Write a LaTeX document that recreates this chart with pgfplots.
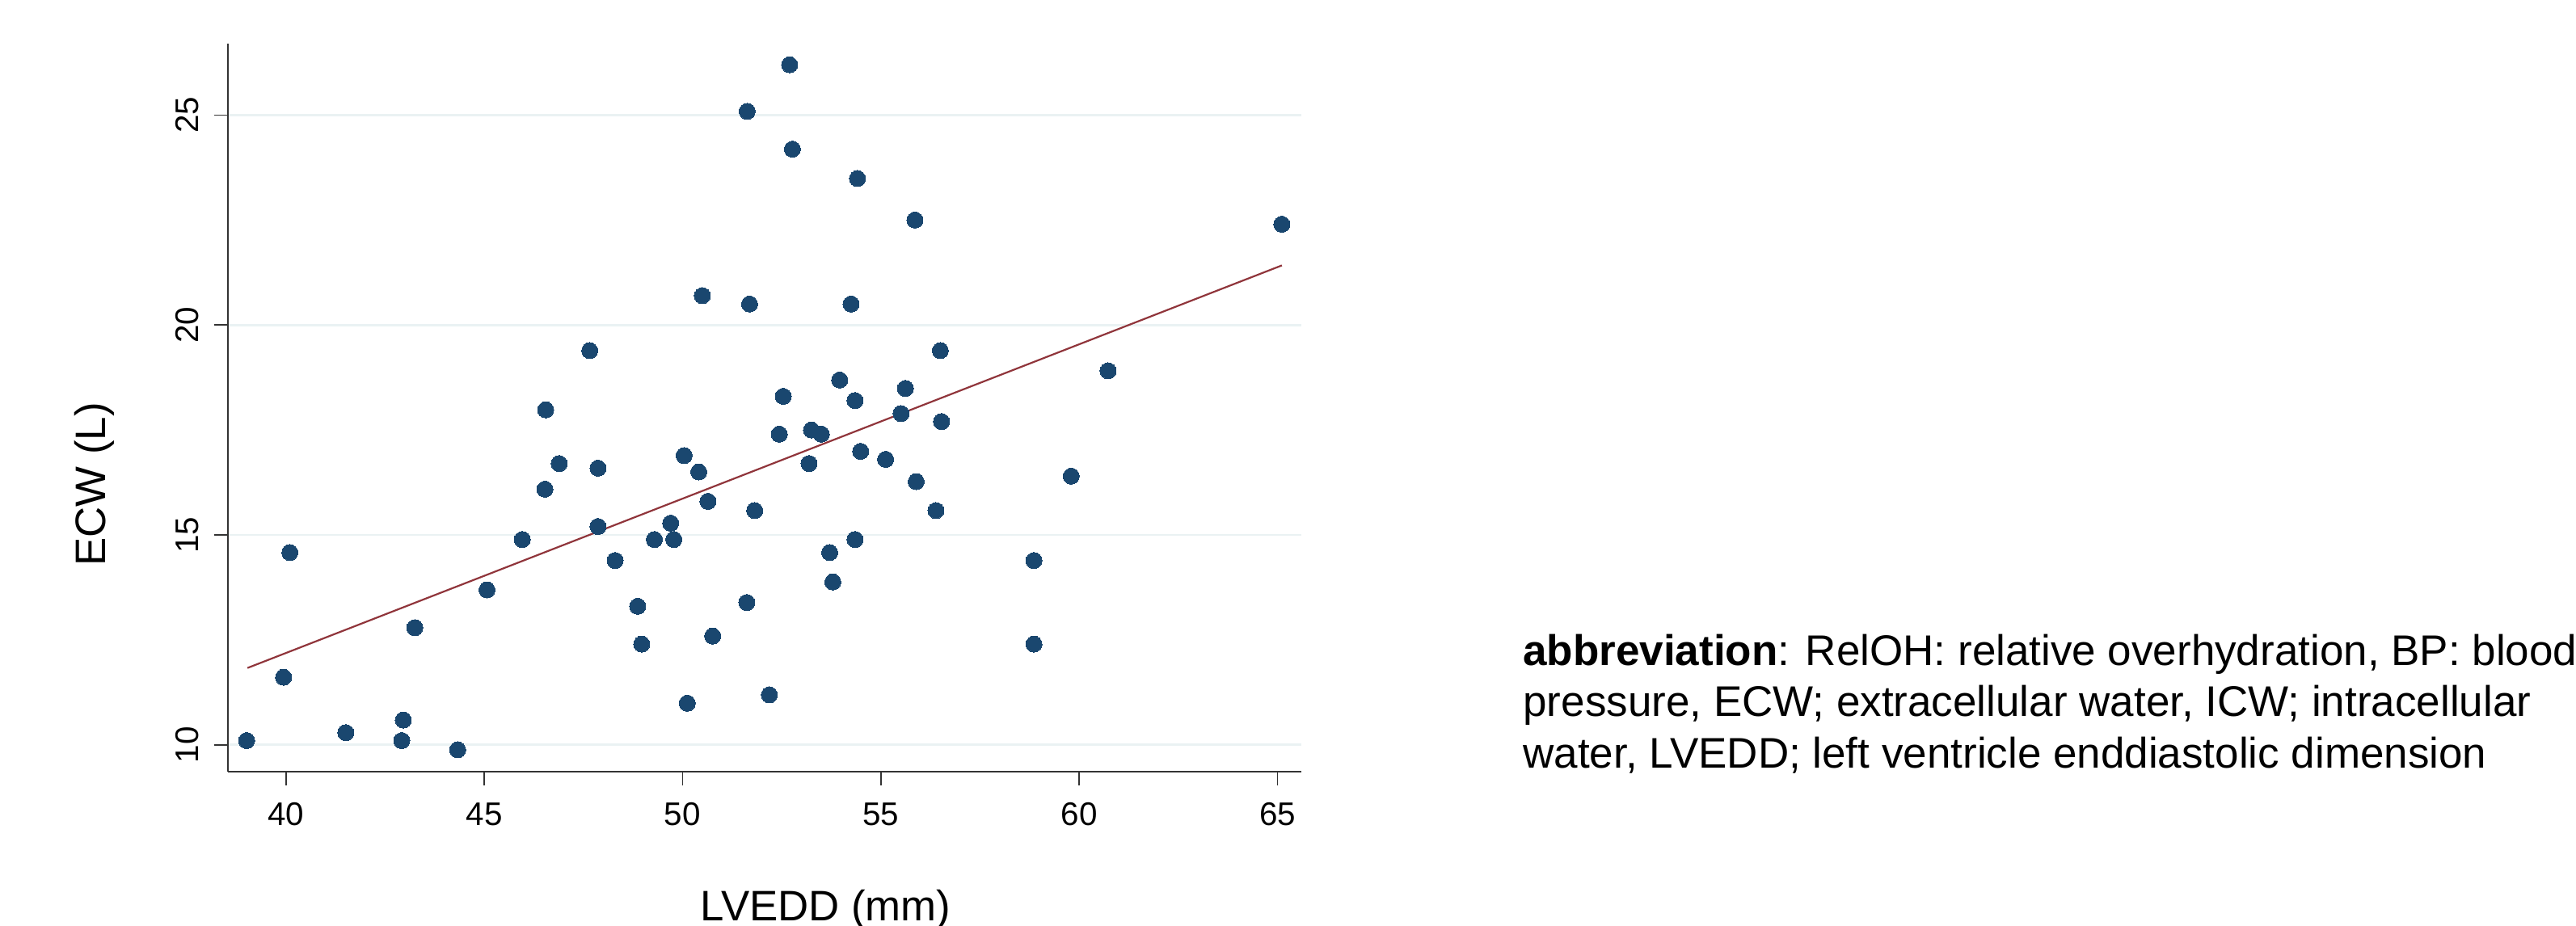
\documentclass[border=0pt]{standalone}
\usepackage{fontspec}
\setmainfont{Liberation Sans}
\usepackage{pgfplots}
\pgfplotsset{compat=1.18}

\definecolor{dotblue}{HTML}{1A476F}
\definecolor{fitred}{HTML}{90353B}
\definecolor{gridc}{HTML}{EAF2F3}
\definecolor{axisc}{HTML}{333333}

\begin{document}
\begin{tikzpicture}
\begin{axis}[
  at={(0pt,0pt)}, anchor=south west,
  scale only axis,
  width=332.2pt, height=225.2pt,
  xmin=38.53, xmax=65.61,
  ymin=9.36, ymax=26.70,
  enlargelimits=false,
  clip=false,
  axis x line*=bottom,
  axis y line*=left,
  axis line style={axisc, line width=0.45pt},
  xtick={40,45,50,55,60,65},
  ytick={10,15,20,25},
  tick align=outside,
  major tick length=4.2pt,
  tick style={axisc, line width=0.45pt},
  ymajorgrids=true,
  grid style={gridc, line width=0.7pt},
  /pgf/number format/assume math mode=true,
  tick label style={font=\fontsize{10.1}{12}\selectfont, inner sep=0pt},
  xticklabel style={anchor=north, yshift=-5.2pt},
  yticklabel style={xshift=-4.8pt, rotate=90, anchor=base},
]
\addplot[only marks, mark=*, mark size=2.5pt, draw=none, fill=dotblue,
  mark options={draw=dotblue, fill=dotblue, line width=0pt}] coordinates {
  (39.01,10.10) (39.94,11.61) (40.10,14.58) (41.51,10.29) (42.96,10.59)
  (42.92,10.10) (43.25,12.79) (44.33,9.88) (45.07,13.69) (45.96,14.89)
  (46.53,16.09) (46.55,17.98) (46.89,16.70) (47.66,19.39) (47.87,16.59)
  (47.87,15.20) (48.30,14.39) (48.87,13.30) (48.97,12.40) (49.29,14.89)
  (49.70,15.28) (49.78,14.89) (50.04,16.89) (50.12,10.99) (50.41,16.50)
  (50.50,20.70) (50.64,15.80) (50.76,12.59) (51.63,25.09) (51.62,13.39)
  (51.69,20.50) (51.82,15.58) (52.19,11.19) (52.44,17.40) (52.54,18.30)
  (52.70,26.20) (52.77,24.19) (53.19,16.70) (53.25,17.50) (53.50,17.40)
  (53.71,14.58) (53.79,13.88) (53.96,18.69) (54.41,23.49) (54.25,20.50)
  (54.35,18.20) (54.49,16.99) (54.35,14.89) (55.12,16.80) (55.51,17.89)
  (55.62,18.49) (55.86,22.50) (55.89,16.27) (56.50,19.39) (56.53,17.70)
  (56.39,15.58) (58.86,14.39) (58.86,12.40) (59.80,16.40) (60.73,18.91)
  (65.11,22.40)
};
% fitted line
\addplot[fitred, line width=0.55pt, no marks] coordinates {
  (39.03,11.83) (65.11,21.42)
};
\end{axis}

\node[anchor=base, inner sep=0pt, font=\fontsize{13.2}{15.9}\selectfont]
  at (185.0pt,-46.1pt) {LVEDD (mm)};
\node[anchor=base, rotate=90, inner sep=0pt, font=\fontsize{13.2}{15.9}\selectfont]
  at (-37.7pt,88.9pt) {ECW (L)};

\begin{scope}[every node/.style={anchor=base west, inner sep=0pt, font=\fontsize{13.25}{15.9}\selectfont}]
\node at (400.5pt,32.9pt) {\textbf{abbreviation}: RelOH: relative overhydration, BP: blood};
\node at (400.5pt,17.05pt) {pressure, ECW; extracellular water, ICW; intracellular};
\node at (400.5pt,1.2pt) {water, LVEDD; left ventricle enddiastolic dimension};
\end{scope}

\pgfresetboundingbox
\path[use as bounding box] (-70.4pt,-47.5pt) rectangle (726.35pt,238.75pt);
\end{tikzpicture}
\end{document}
